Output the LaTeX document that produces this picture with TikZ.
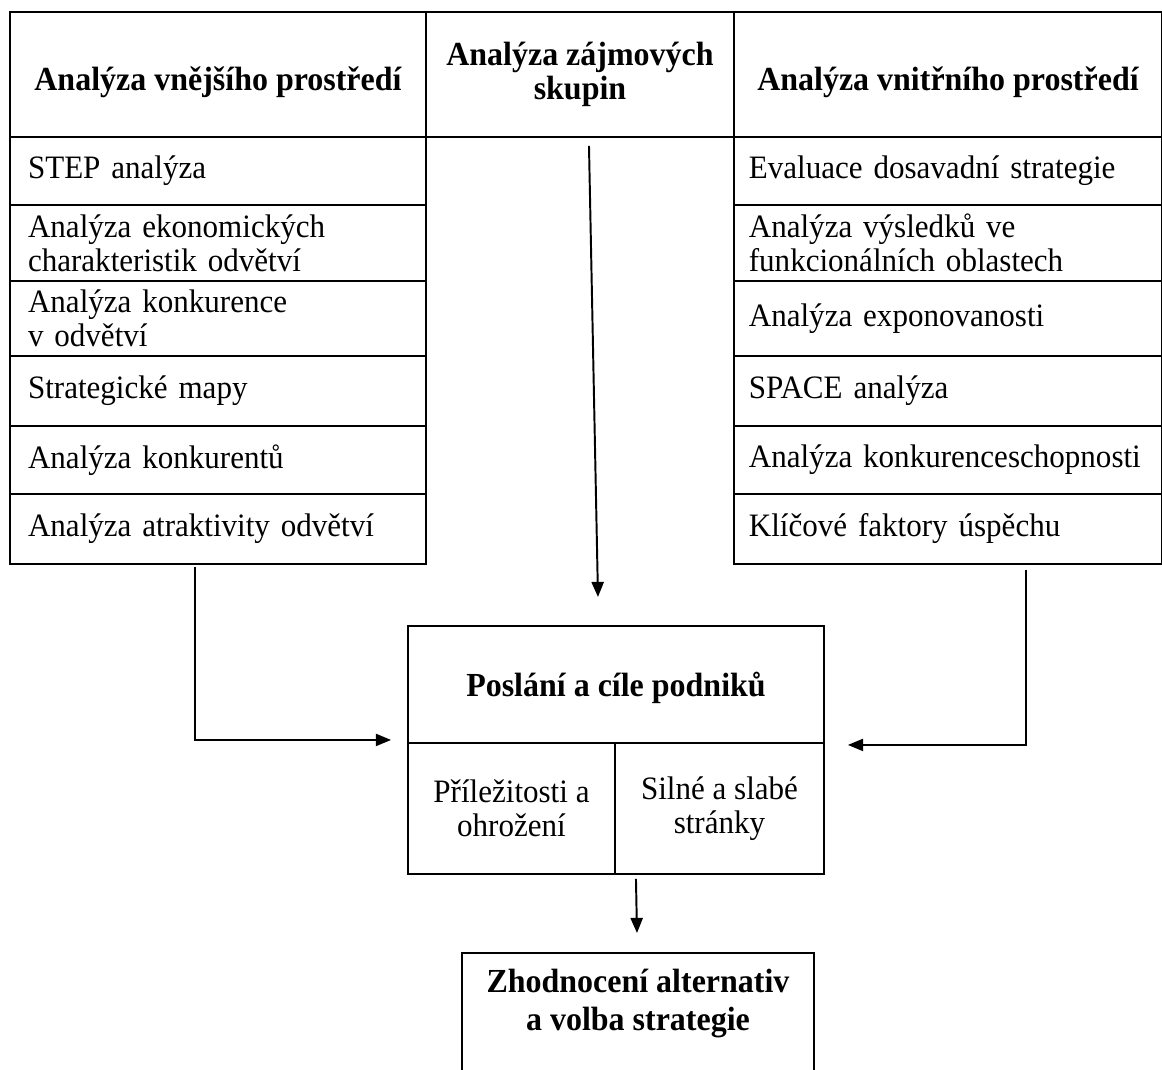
\documentclass[tikz,border=0pt]{standalone}
\usepackage{fontspec}
\setmainfont[FakeStretch=0.95]{Liberation Serif}
\usetikzlibrary{arrows.meta,calc}

\newcommand{\px}{0.41pt}
\newcommand{\cellfont}{\fontsize{13.4}{13.9}\selectfont}
\newcommand{\headfont}{\fontsize{13.8}{13.9}\selectfont\bfseries}
\newcommand{\headdown}[1]{\raisebox{-3.3pt}[\height][\depth]{#1}}
\tikzset{
box/.style    = {draw, thick, rectangle, anchor=north west, align=center, inner sep=0pt, font=\cellfont},}

\begin{document}
\begin{tikzpicture}[x=\px, y=-\px]
    \tikzset{cell/.style={box, inner ysep=0pt, align=left},
      lcell/.style={cell, inner xsep=7.4pt, text width=155.7pt},
      rcell/.style={cell, inner xsep=6.1pt, text width=163.2pt},
      head/.style={box, minimum height=125*\px, font=\headfont},
      arr/.style={-{Triangle[length=6.2pt, width=5pt]}, semithick}};
    \useasboundingbox (0,0) rectangle (1162,1070);
    \clip (0,0) rectangle (1162,1070);
    % header row
    \node[head, minimum width=416*\px] (vnejsi) at (9,11) {\headdown{Analýza vnějšího prostředí}};
    \node[head, minimum width=308*\px] (zajmy) at (425,11) {Analýza zájmových\\skupin};
    \node[head, minimum width=428*\px] (vnitrni) at (733,11) {\headdown{Analýza vnitřního prostředí}};
    % left and right columns
    \foreach \t/\y/\h [count=\i] in {{STEP analýza}/136/68,
        {Analýza ekonomických\\charakteristik odvětví}/204/76,
        {Analýza konkurence\\v odvětví}/280/75,
        {Strategické mapy}/355/70,
        {Analýza konkurentů}/425/68,
        {Analýza atraktivity odvětví}/493/70}
      \node[lcell, minimum height=\h*\px] (vne\i) at (9,\y) {\t};
    \foreach \t/\y/\h [count=\i] in {{Evaluace dosavadní strategie}/136/68,
        {Analýza výsledků ve\\funkcionálních oblastech}/204/76,
        {Analýza exponovanosti}/280/75,
        {SPACE analýza}/355/70,
        {Analýza~konkurenceschopnosti}/425/68,
        {Klíčové faktory úspěchu}/493/70}
      \node[rcell, minimum height=\h*\px] (vni\i) at (733,\y) {\t};
    % goals and SWOT
    \node[box, minimum width=416*\px, minimum height=117*\px, font=\headfont] (poslani) at (407,625) {\raisebox{-1.5pt}[\height][\depth]{Poslání a cíle podniků}};
    \node[box, minimum width=207*\px, minimum height=131*\px] (prilez) at (407,742) {Příležitosti a\\ohrožení};
    \node[box, minimum width=209*\px, minimum height=131*\px] (silne) at (614,742) {Silné a slabé\\stránky};
    % strategy choice
    \node[box, minimum width=352*\px, minimum height=180*\px] (volba) at (461,952) {};
    \node[anchor=north, align=center, inner sep=0pt, font=\fontsize{13.8}{15.6}\selectfont\bfseries] (volbatxt) at ($(volba.north)+(0,17)$) {Zhodnocení alternativ\\a volba strategie};
    % arrows
    \draw[arr, thick] ($(zajmy.south)+(9,8)$) -- ($(poslani.north)+(-18,-28)$);
    \draw[arr] ($(vne6.south)+(-23,2)$) |- ($(poslani.south west)+(-16,-4)$);
    \draw[arr] ($(vni6.south)+(78,5)$) |- ($(poslani.south east)+(23,1)$);
    \draw[arr, thick] ($(prilez.south east)+(20,4)$) -- ($(volba.north)+(-1,-19)$);
\end{tikzpicture}
\end{document}
